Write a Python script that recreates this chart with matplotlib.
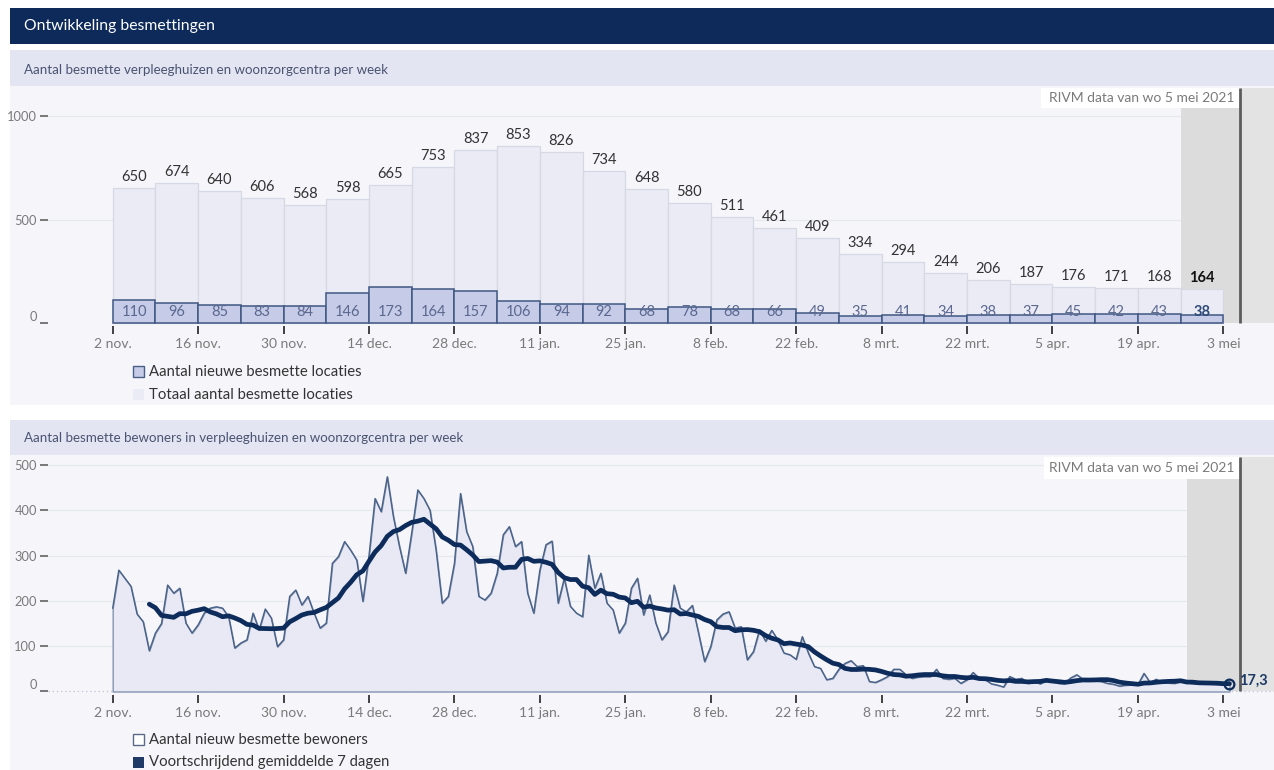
import matplotlib
matplotlib.use('Agg')
import matplotlib.pyplot as plt
import matplotlib.dates as mdates
from matplotlib.patches import Rectangle
import matplotlib.transforms as mtrans
import pandas as pd

plt.rcParams['font.family'] = ['Lato', 'DejaVu Sans']

# ---------------- data ----------------
week_start = pd.date_range('2020-11-02', periods=26, freq='7D')
totaal = [650, 674, 640, 606, 568, 598, 665, 753, 837, 853, 826, 734, 648,
          580, 511, 461, 409, 334, 294, 244, 206, 187, 176, 171, 168, 164]
nieuw = [110, 96, 85, 83, 84, 146, 173, 164, 157, 106, 94, 92, 68,
         78, 68, 66, 49, 35, 41, 34, 38, 37, 45, 42, 43, 38]
tick_dates = pd.date_range('2020-11-02', '2021-05-03', freq='14D')
tick_labels = ['2 nov.', '16 nov.', '30 nov.', '14 dec.', '28 dec.', '11 jan.',
               '25 jan.', '8 feb.', '22 feb.', '8 mrt.', '22 mrt.', '5 apr.',
               '19 apr.', '3 mei']
daily_bewoners = [
    184, 268, 250, 232, 171, 154, 90, 129, 150, 235, 217, 228, 151, 129,
    147, 173, 184, 187, 184, 165, 96, 107, 114, 173, 136, 182, 162, 99,
    114, 210, 224, 191, 210, 173, 140, 151, 283, 298, 331, 312, 290, 199,
    300, 426, 397, 474, 386, 320, 261, 350, 445, 426, 400, 312, 195, 210,
    283, 437, 353, 320, 210, 202, 217, 261, 346, 364, 320, 331, 217, 173,
    268, 324, 332, 195, 250, 188, 173, 165, 301, 228, 261, 195, 180, 129,
    151, 228, 250, 169, 213, 151, 114, 132, 235, 184, 176, 190, 129, 66,
    99, 158, 171, 176, 140, 143, 70, 88, 136, 111, 135, 114, 85, 81,
    71, 121, 85, 55, 51, 26, 29, 49, 62, 68, 55, 57, 22, 20,
    26, 33, 49, 49, 37, 29, 32, 33, 33, 49, 29, 27, 29, 18,
    26, 42, 29, 26, 17, 14, 10, 33, 27, 29, 18, 22, 17, 26,
    22, 18, 18, 30, 37, 27, 25, 24, 22, 18, 16, 12, 14, 15,
    15, 40, 20, 27, 20, 19, 18, 22, 20, 18, 17, 18, 17, 16,
    15, 20]
days = pd.date_range('2020-11-02', periods=len(daily_bewoners), freq='D')
ma7 = pd.Series(daily_bewoners, index=days).rolling(7).mean()

bron = 'RIVM data van wo 5 mei 2021'

# ---------------- colours ----------------
NAVY = '#0d2a5a'
SUBBAND = '#e3e5f3'
BODY = '#f6f6fa'
NEW_FILL = '#c6cbe7'
NEW_EDGE = '#3f5783'
TOT_FILL = '#ebebf5'
TOT_EDGE = '#d6d8e4'
GRID = '#e6e7ef'
BAND = '#dcdcdc'
BAND2 = '#e3e3e3'

W, H = 1274, 770
fig = plt.figure(figsize=(W / 100, H / 100), dpi=100)
fig.patch.set_facecolor('white')


def frect(x0, y0, x1, y1, fc, ec='none', lw=0, z=-5):
    fig.add_artist(Rectangle((x0 / W, 1 - y1 / H), (x1 - x0) / W, (y1 - y0) / H,
                             transform=fig.transFigure, facecolor=fc,
                             edgecolor=ec, lw=lw, zorder=z))


def ftext(x, y, s, **kw):
    fig.text(x / W, 1 - y / H, s, **kw)


def axes_px(x0, y0, x1, y1):
    a = fig.add_axes([x0 / W, 1 - y1 / H, (x1 - x0) / W, (y1 - y0) / H])
    a.set_facecolor('none')
    for s in a.spines.values():
        s.set_visible(False)
    return a


# panel backgrounds
frect(10, 8, W, 44, NAVY)
ftext(24, 26, 'Ontwikkeling besmettingen', color='white', fontsize=11.3, va='center')
frect(10, 50, W, 86, SUBBAND)
ftext(24, 70, 'Aantal besmette verpleeghuizen en woonzorgcentra per week',
      color='#4a5470', fontsize=9.6, va='center')
frect(10, 86, W, 405, BODY)
frect(10, 420, W, 455, SUBBAND)
ftext(24, 438, 'Aantal besmette bewoners in verpleeghuizen en woonzorgcentra per week',
      color='#4a5470', fontsize=9.6, va='center')
frect(10, 455, W, 770, BODY)

d0 = mdates.date2num(pd.Timestamp('2020-11-02'))
XL = (d0 - 10.6, d0 + 190.3)
LINE_X = d0 + 184.7


def common_x(ax):
    ax.set_xlim(*XL)
    ax.set_xticks(mdates.date2num(tick_dates))
    ax.set_xticklabels(tick_labels)
    ax.tick_params(axis='x', direction='in', length=6, width=1.3, color='#333333',
                   labelcolor='#7a7a7a', labelsize=10, pad=3)
    ax.tick_params(axis='y', direction='out', length=6, width=1.1, color='#555555',
                   labelcolor='#7a7a7a', labelsize=9.3, pad=2)


# ---------------- top chart ----------------
ax1 = axes_px(48, 88, W, 334)
Y1 = (-53.1, 1135.3)
ax1.set_ylim(*Y1)
common_x(ax1)
ax1.set_yticks([0, 500, 1000])
ax1.set_yticklabels(['0', '500', '1000'])
ax1.get_yticklabels()[0].set_verticalalignment('bottom')
for v in (500, 1000):
    ax1.axhline(v, color=GRID, lw=0.9, zorder=0.5)

band1 = mdates.date2num(week_start[-1])
ax1.add_patch(Rectangle((band1, 0), LINE_X - band1, Y1[1], facecolor=BAND, lw=0, zorder=1))
ax1.add_patch(Rectangle((LINE_X, 0), XL[1] - LINE_X, Y1[1], facecolor=BAND2, lw=0, zorder=1))
bx0 = d0 + 152.2
tr1 = mtrans.blended_transform_factory(ax1.transData, ax1.transAxes)
ax1.add_patch(Rectangle((bx0, 1 - 20 / 246), LINE_X - bx0, 20 / 246, transform=tr1,
                        facecolor='white', lw=0, zorder=1.5))
ax1.text(LINE_X - 0.8, 1 - 10 / 246, bron, transform=tr1, ha='right', va='center',
         fontsize=10, color='#7a7a7a', zorder=6)

xw = mdates.date2num(week_start)
ax1.bar(xw, totaal, width=7, align='edge', color=TOT_FILL, edgecolor=TOT_EDGE,
        lw=0.9, zorder=2)
ax1.bar(xw, nieuw, width=7, align='edge', color=NEW_FILL, edgecolor=NEW_EDGE,
        lw=1.1, zorder=3)
ax1.vlines(LINE_X, 0, Y1[1], color='#5c5c5c', lw=2, zorder=4)

for i, (x, t, n) in enumerate(zip(xw, totaal, nieuw)):
    last = i == len(totaal) - 1
    ax1.annotate(str(t), (x + 3.5, t), xytext=(0, 11), textcoords='offset pixels',
                 ha='center', va='center', fontsize=10.5,
                 color='#111111' if last else '#333333',
                 fontweight='bold' if last else 'normal', zorder=6)
    ax1.annotate(str(n), (x + 3.5, 0), xytext=(0, 11), textcoords='offset pixels',
                 ha='center', va='center', fontsize=10.5,
                 color='#2d4a78' if last else '#5a6890',
                 fontweight='bold' if last else 'normal', zorder=6)

# top legend
frect(133, 366, 144, 377, NEW_FILL, ec='#4a5f88', lw=1.0, z=5)
ftext(149, 372, 'Aantal nieuwe besmette locaties', fontsize=10.7, color='#333333', va='center')
frect(133, 389, 144, 400, TOT_FILL, z=5)
ftext(149, 395, 'Totaal aantal besmette locaties', fontsize=10.7, color='#333333', va='center')

# ---------------- bottom chart ----------------
ax2 = axes_px(48, 457, W, 703)
Y2 = (-25.4, 517.7)
ax2.set_ylim(*Y2)
common_x(ax2)
ax2.set_yticks([0, 100, 200, 300, 400, 500])
ax2.set_yticklabels(['0', '100', '200', '300', '400', '500'])
ax2.get_yticklabels()[0].set_verticalalignment('bottom')
for v in (100, 200, 300, 400, 500):
    ax2.axhline(v, color=GRID, lw=0.9, zorder=0.5)
ax2.axhline(0, color='#c4c8d8', lw=1, ls=(0, (1, 2)), zorder=0.6)

band2 = d0 + 176.1
ax2.add_patch(Rectangle((band2, 0), LINE_X - band2, Y2[1], facecolor=BAND, lw=0, zorder=1))
ax2.add_patch(Rectangle((LINE_X, 0), XL[1] - LINE_X, Y2[1], facecolor=BAND2, lw=0, zorder=1))
tr2 = mtrans.blended_transform_factory(ax2.transData, ax2.transAxes)
ax2.add_patch(Rectangle((bx0 + 0.4, 1 - 22 / 246), LINE_X - bx0 - 0.4, 22 / 246,
                        transform=tr2, facecolor='white', lw=0, zorder=1.5))
ax2.text(LINE_X - 0.8, 1 - 11 / 246, bron, transform=tr2, ha='right', va='center',
         fontsize=10, color='#7a7a7a', zorder=6)

xd = mdates.date2num(days)
ax2.fill_between(xd, 0, daily_bewoners, facecolor='#e8e9f4', edgecolor='#8494b0',
                 lw=1.0, zorder=2)
ax2.plot(xd, daily_bewoners, color='#4a6288', lw=1.0, zorder=3)
ax2.plot(xd, ma7.values, color='#0d2b5b', lw=3.4, zorder=4, solid_capstyle='round')
ax2.vlines(LINE_X, 0, Y2[1], color='#5c5c5c', lw=2, zorder=4.5)
ax2.plot(xd[-1], ma7.values[-1], 'o', mfc='none', mec='#0d2b5b', ms=7, mew=1.6, zorder=5)
ax2.annotate(f"{ma7.values[-1]:.1f}".replace('.', ','), (xd[-1], ma7.values[-1]),
             xytext=(10, 3), textcoords='offset pixels', ha='left', va='center',
             fontsize=10.5, fontweight='bold', color='#1d3a66', zorder=6)

# bottom legend
frect(133, 734, 144, 745, 'white', ec='#5a6a88', lw=1.0, z=5)
ftext(149, 740, 'Aantal nieuw besmette bewoners', fontsize=10.7, color='#333333', va='center')
frect(133, 757, 144, 768, '#1f3a66', z=5)
ftext(149, 762, 'Voortschrijdend gemiddelde 7 dagen', fontsize=10.7, color='#333333', va='center')

fig.savefig('out.png', dpi=100, facecolor='white')
